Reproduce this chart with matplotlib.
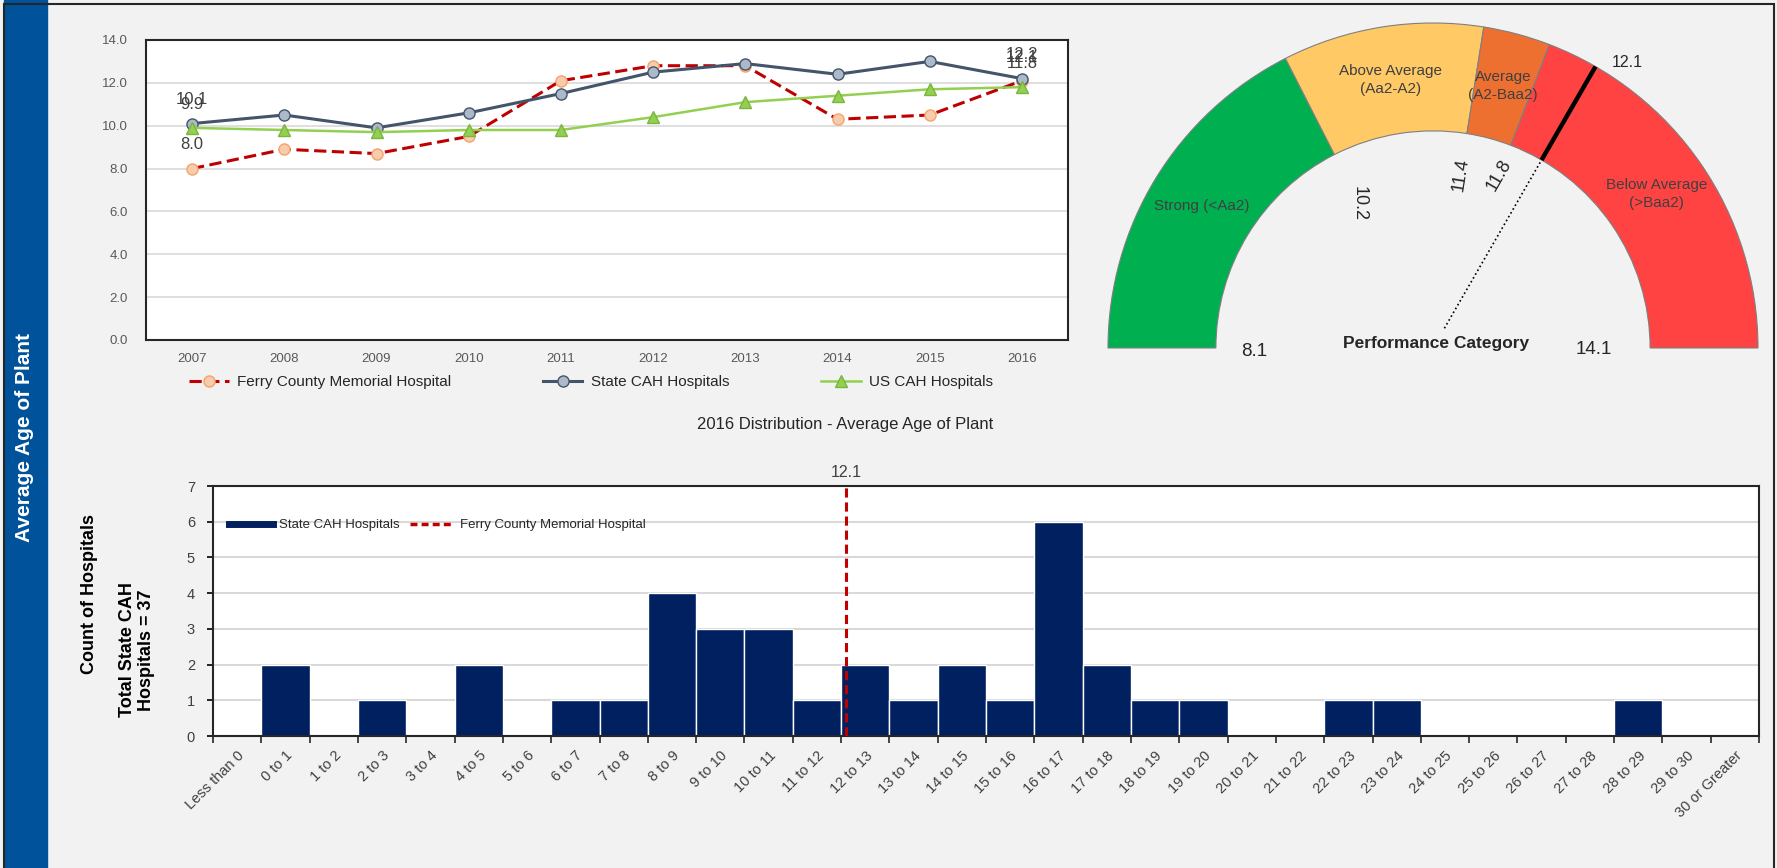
import numpy as np
import matplotlib
matplotlib.use("Agg")
import matplotlib.pyplot as plt
from matplotlib.patches import Rectangle, Wedge
from matplotlib.lines import Line2D

plt.rcParams["font.family"] = ["Liberation Sans", "DejaVu Sans"]

# ============================================================
# 数据
# ============================================================
years = [2007, 2008, 2009, 2010, 2011, 2012, 2013, 2014, 2015, 2016]
ferry_age = [8.0, 8.9, 8.7, 9.5, 12.1, 12.8, 12.8, 10.3, 10.5, 12.1]
state_age = [10.1, 10.5, 9.9, 10.6, 11.5, 12.5, 12.9, 12.4, 13.0, 12.2]
us_age = [9.9, 9.8, 9.7, 9.8, 9.8, 10.4, 11.1, 11.4, 11.7, 11.8]

hist_bins = (["Less than 0"] + [f"{i} to {i + 1}" for i in range(30)]
             + ["30 or Greater"])
hist_counts = [0, 2, 0, 1, 0, 2, 0, 1, 1, 4, 3, 3, 1, 2, 1, 2,
               1, 6, 2, 1, 1, 0, 0, 1, 1, 0, 0, 0, 0, 1, 0, 0]
hospital_value = 12.1

gauge_min = 8.1
gauge_max = 14.1
gauge_breaks = [10.2, 11.4, 11.8]
gauge_names = ["Strong (<Aa2)", "Above Average\n(Aa2-A2)",
               "Average\n(A2-Baa2)", "Below Average\n(>Baa2)"]

# ============================================================
# 画布（像素坐标辅助函数）
# ============================================================
W, H = 1777, 868
fig = plt.figure(figsize=(W / 100, H / 100), dpi=100, facecolor="#f2f2f2")


def fx(px):
    return px / W


def fy(py):
    return 1 - py / H


def box(l, t, r, b):
    return [l / W, 1 - b / H, (r - l) / W, (b - t) / H]


# 左侧蓝色竖条 + 外框
fig.add_artist(Rectangle((fx(4), 0), fx(43), 1, transform=fig.transFigure,
                         color="#00529b", zorder=0))
fig.add_artist(Rectangle((fx(4), -0.01), fx(1770), fy(4) + 0.01,
                         transform=fig.transFigure, fill=False,
                         ec="#262626", lw=1.5, zorder=5))
fig.text(fx(25), fy(437), "Average Age of Plant", rotation=90, color="white",
         fontsize=15, fontweight="bold", ha="center", va="center")

# ============================================================
# 图 1：折线图
# ============================================================
ax1 = fig.add_axes(box(146, 40, 1068, 340))
x = np.arange(len(years))
series = [
    (ferry_age, "Ferry County Memorial Hospital",
     dict(color="#c00000", ls=(0, (4, 1.8)), lw=2.2, marker="o", ms=8,
          mfc="#f8cbad", mec="#f4a46a")),
    (state_age, "State CAH Hospitals",
     dict(color="#44546a", lw=2.2, marker="o", ms=8,
          mfc="#acb9ca", mec="#44546a")),
    (us_age, "US CAH Hospitals",
     dict(color="#92d050", lw=1.8, marker="^", ms=9,
          mfc="#92d050", mec="#7cb342")),
]
for vals, name, style in series:
    ax1.plot(x, vals, label=name, **style)
    # 首尾两个点加数据标签（与原图一样会互相重叠）
    for i in (0, len(vals) - 1):
        ax1.annotate(f"{vals[i]:.1f}", (x[i], vals[i]), xytext=(0, 17),
                     textcoords="offset points", ha="center", va="center",
                     fontsize=12, color="#404040")

ax1.set_xlim(-0.5, len(years) - 0.5)
ax1.set_ylim(0, 14)
ax1.set_yticks(np.arange(0, 14.1, 2))
ax1.set_yticklabels([f"{v:.1f}" for v in np.arange(0, 14.1, 2)])
ax1.set_xticks(x, [str(y) for y in years])
ax1.tick_params(axis="y", length=0, pad=13, labelsize=9.5, labelcolor="#595959")
ax1.tick_params(axis="x", length=0, pad=9, labelsize=9.5, labelcolor="#595959")
ax1.grid(axis="y", color="#d9d9d9", lw=1.2)
ax1.set_axisbelow(True)
for sp in ax1.spines.values():
    sp.set_color("#262626")
    sp.set_linewidth(1.5)

ax1.legend(loc="center", bbox_to_anchor=(fx(591), fy(382)),
           bbox_transform=fig.transFigure, ncol=3, frameon=False,
           fontsize=11, handlelength=2.6, handletextpad=0.55,
           columnspacing=6.0, borderpad=0, labelcolor="#262626")

# ============================================================
# 图 2：仪表盘
# ============================================================
R = 325
cx, cy = 1433, 348
gax = fig.add_axes(box(cx - 1.1 * R, cy - 1.1 * R, cx + 1.1 * R, cy + 0.15 * R))
gax.set_xlim(-1.1, 1.1)
gax.set_ylim(-0.15, 1.1)
gax.set_aspect("equal")
gax.axis("off")
gax.patch.set_alpha(0)

r_in = 0.668


def ang(v):
    return 180 - (v - gauge_min) / (gauge_max - gauge_min) * 180


edges = [gauge_min] + gauge_breaks + [gauge_max]
gauge_colors = ["#00b050", "#ffc966", "#ed7031", "#ff4343"]
for k in range(len(gauge_names)):
    lo, hi = edges[k], edges[k + 1]
    gax.add_patch(Wedge((0, 0), 1.0, ang(hi), ang(lo), width=1 - r_in,
                        fc=gauge_colors[k], ec="#7f7f7f", lw=0.8))
    mid = np.radians((ang(lo) + ang(hi)) / 2)
    gax.text(0.835 * np.cos(mid), 0.835 * np.sin(mid), gauge_names[k],
             ha="center", va="center", fontsize=11, color="#404040",
             linespacing=1.4)

# 分界值标签（原图中是斜放/倒置的）
for b, rot, rr in zip(gauge_breaks, [270, 81, 60], [0.5, 0.54, 0.57]):
    a = np.radians(ang(b))
    gax.text(rr * np.cos(a), rr * np.sin(a), f"{b:.1f}", rotation=rot,
             ha="center", va="center", fontsize=13, color="#262626")

a = np.radians(ang(hospital_value))
gax.plot([r_in * np.cos(a), np.cos(a)], [r_in * np.sin(a), np.sin(a)],
         color="black", lw=3.2, solid_capstyle="butt")
gax.plot([0.07 * np.cos(a), r_in * np.cos(a)], [0.07 * np.sin(a), r_in * np.sin(a)],
         color="black", lw=1.2, ls=":")
gax.annotate(f"{hospital_value:.1f}", (np.cos(a), np.sin(a)), xytext=(23, 3),
             textcoords="offset points", ha="center", va="center",
             fontsize=11.5, color="#262626")

gax.text(-0.551, -0.012, f"{gauge_min:.1f}", ha="center", va="center",
         fontsize=13.5, color="#262626")
gax.text(0.495, -0.006, f"{gauge_max:.1f}", ha="center", va="center",
         fontsize=13.5, color="#262626")
gax.text(0.009, 0.015, "Performance Category", ha="center", va="center",
         fontsize=12.5, fontweight="bold", color="#262626")

# ============================================================
# 图 3：2016 年分布直方图
# ============================================================
fig.text(fx(845), fy(424), "2016 Distribution - Average Age of Plant",
         ha="center", va="center", fontsize=12, color="#262626")

ax2 = fig.add_axes(box(213, 486, 1759, 736))
pos = np.arange(len(hist_bins))
ax2.bar(pos, hist_counts, width=1.0, color="#002060", edgecolor="white",
        lw=1, zorder=2)

# 数值 v 对应 "v 到 v+1" 区间，"Less than 0" 占第 0 格
line_x = hospital_value + 0.5
ax2.axvline(line_x, color="#c00000", ls=(0, (3, 1.6)), lw=2.2, zorder=3)
ax2.annotate(f"{hospital_value:.1f}", (line_x, 7), xytext=(0, 9.5),
             textcoords="offset points", ha="center", va="center",
             fontsize=11.5, color="#404040", annotation_clip=False)

ax2.set_xlim(-0.5, len(hist_bins) - 0.5)
ax2.set_ylim(0, 7)
ax2.set_yticks(range(0, 8))
ax2.set_xticks(np.arange(len(hist_bins) + 1) - 0.5)
ax2.set_xticklabels([])
ax2.set_xticks(pos, hist_bins, minor=True)
for lab in ax2.get_xticklabels(minor=True):
    lab.set_rotation(45)
    lab.set_ha("right")
    lab.set_va("top")
    lab.set_rotation_mode("anchor")
ax2.tick_params(axis="x", which="major", length=5, width=1.2, color="#262626")
ax2.tick_params(axis="x", which="minor", length=0, pad=9, labelsize=10.5,
                labelcolor="#404040")
ax2.tick_params(axis="y", length=4, width=1.2, pad=9, labelsize=10.5,
                labelcolor="#404040")
ax2.grid(axis="y", color="#d9d9d9", lw=1.5, zorder=0)
ax2.set_axisbelow(True)
for sp in ax2.spines.values():
    sp.set_color("#262626")
    sp.set_linewidth(1.5)

handles = [Line2D([], [], color="#002060", lw=5),
           Line2D([], [], color="#c00000", lw=2.5, ls=(0, (2, 1.2)))]
ax2.legend(handles, ["State CAH Hospitals", "Ferry County Memorial Hospital"],
           loc="center left", bbox_to_anchor=(fx(229), fy(525)),
           bbox_transform=fig.transFigure, ncol=2, frameon=False,
           fontsize=9.5, handlelength=3.3, handletextpad=0.5,
           columnspacing=0.8, borderpad=0, borderaxespad=0,
           labelcolor="#262626")

fig.text(fx(89), fy(594), "Count of Hospitals", rotation=90, ha="center",
         va="center", fontsize=13, fontweight="bold", color="black")
fig.text(fx(137), fy(650), "Total State CAH\nHospitals = 37", rotation=90,
         ha="center", va="center", fontsize=13, fontweight="bold",
         color="black", multialignment="center")

fig.savefig("out.png", dpi=100, facecolor=fig.get_facecolor())
